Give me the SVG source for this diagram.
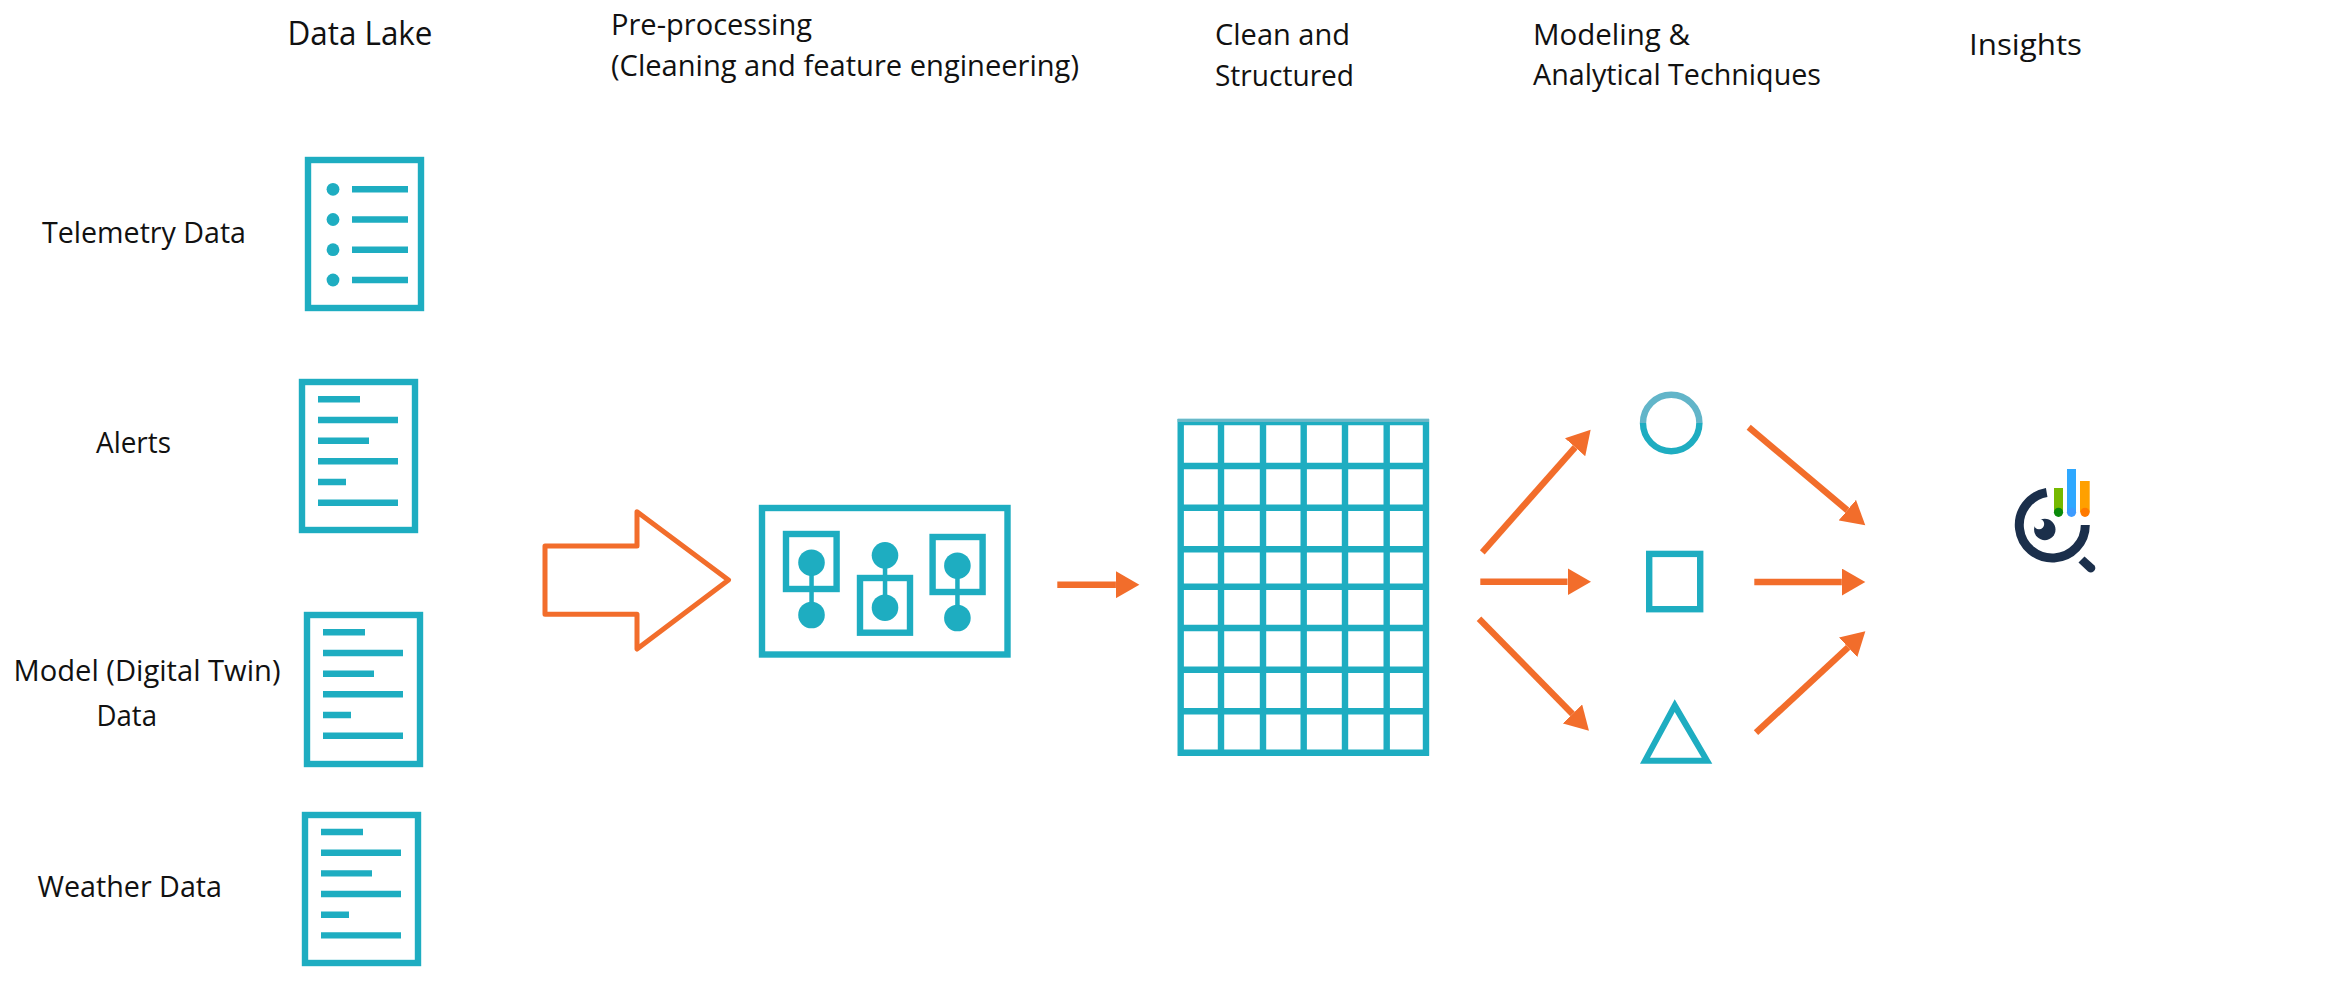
<svg xmlns="http://www.w3.org/2000/svg" width="2338" height="990" viewBox="0 0 2338 990">
<style>
text{font-family:"Open Sans","Noto Sans","Liberation Sans",sans-serif;fill:#111;font-size:30px}
.t{fill:#1eadc1;stroke:none}
.o{fill:none;stroke:#1eadc1;stroke-width:6.4}
.l{stroke:#1eadc1;stroke-width:6.4;fill:none}
.c{fill:none;stroke:#f26d2b;stroke-width:6.4}
</style>
<defs>
<marker id="h" markerUnits="userSpaceOnUse" markerWidth="24" markerHeight="27" refX="0" refY="13.5" orient="auto"><path d="M0,0L23.5,13.5L0,27z" fill="#f26d2b"/></marker>
<g id="lines"><path class="l" d="M0,0h42M0,20.7h80M0,41.4h51M0,62h80M0,82.7h28M0,103.4h80"/></g>
</defs>
<rect width="2338" height="990" fill="#fff"/>
<g id="headers">
<text x="287.5" y="44.5" style="font-size:32px" textLength="145" lengthAdjust="spacingAndGlyphs">Data Lake</text>
<text x="611" y="35" textLength="201" lengthAdjust="spacingAndGlyphs">Pre-processing</text>
<text x="611" y="76" textLength="468" lengthAdjust="spacingAndGlyphs">(Cleaning and feature engineering)</text>
<text x="1215" y="45" textLength="135" lengthAdjust="spacingAndGlyphs">Clean and</text>
<text x="1215" y="85.5" textLength="139" lengthAdjust="spacingAndGlyphs">Structured</text>
<text x="1533" y="44.5" textLength="157" lengthAdjust="spacingAndGlyphs">Modeling &amp;</text>
<text x="1533" y="85" textLength="288" lengthAdjust="spacingAndGlyphs">Analytical Techniques</text>
<text x="1969" y="55" textLength="113" lengthAdjust="spacingAndGlyphs">Insights</text>
</g>
<g id="telemetry">
<text x="42" y="243" textLength="204" lengthAdjust="spacingAndGlyphs">Telemetry Data</text>
<rect class="o" x="308" y="160" width="113" height="148"/>
<circle class="t" cx="333" cy="189.3" r="6.4"/><circle class="t" cx="333" cy="219.5" r="6.4"/><circle class="t" cx="333" cy="249.7" r="6.4"/><circle class="t" cx="333" cy="280" r="6.4"/>
<path class="l" d="M352,189.3H408M352,219.5H408M352,249.7H408M352,280H408"/>
</g>
<g id="alerts">
<text x="96" y="453" textLength="75" lengthAdjust="spacingAndGlyphs">Alerts</text>
<rect class="o" x="302" y="382" width="113" height="148"/>
<use href="#lines" x="318" y="399.3"/>
</g>
<g id="model">
<text x="13.5" y="681" textLength="267" lengthAdjust="spacingAndGlyphs">Model (Digital Twin)</text>
<text x="96.5" y="725.5" textLength="60.5" lengthAdjust="spacingAndGlyphs">Data</text>
<rect class="o" x="307" y="615" width="113" height="149"/>
<use href="#lines" x="323" y="632.3"/>
</g>
<g id="weather">
<text x="37.5" y="897" textLength="184.5" lengthAdjust="spacingAndGlyphs">Weather Data</text>
<rect class="o" x="305" y="815" width="113" height="148"/>
<use href="#lines" x="321" y="832"/>
</g>
<g id="preprocess-box">
<rect class="o" x="762" y="508" width="245.5" height="146.5"/>
<rect class="o" x="786" y="534" width="50.6" height="55"/>
<rect class="o" x="860" y="578" width="50" height="54.7"/>
<rect class="o" x="932.6" y="537" width="50" height="55"/>
<path class="t" d="M809.3,562h4.5v53h-4.5zM882.8,555h4.5v53h-4.5zM955.2,565h4.5v53h-4.5z"/>
<circle class="t" cx="811.5" cy="562.7" r="13.3"/><circle class="t" cx="811.5" cy="615" r="13.3"/>
<circle class="t" cx="885" cy="555.3" r="13.3"/><circle class="t" cx="885" cy="607.7" r="13.3"/>
<circle class="t" cx="957.4" cy="565.7" r="13.3"/><circle class="t" cx="957.4" cy="618" r="13.3"/>
</g>
<g id="grid">
<path class="l" d="M1180.7,419V755.7M1221,419V755.7M1263,419V755.7M1303.7,419V755.7M1345,419V755.7M1386.7,419V755.7M1426,419V755.7M1177.7,422H1429M1177.7,466H1429M1177.7,507.7H1429M1177.7,549.3H1429M1177.7,586.7H1429M1177.7,628H1429M1177.7,669.7H1429M1177.7,711.3H1429M1177.7,752.7H1429"/>
<rect x="1177.7" y="419" width="251.3" height="3" fill="#6ab8c8"/>
</g>
<g id="circle">
<path d="M1643,423A28.2,28.2 0 0 1 1699.4,423" fill="none" stroke="#62b5c9" stroke-width="6.4"/>
<path d="M1643,423A28.2,28.2 0 0 0 1699.4,423" fill="none" stroke="#1eadc1" stroke-width="6.4"/>
</g>
<g id="square"><rect class="o" x="1649.2" y="553.9" width="51" height="55.3"/></g>
<g id="triangle"><path class="t" fill-rule="evenodd" d="M1674.7,699.3L1712.3,763.7H1640zM1674.7,712L1650,757.7H1701.7z"/></g>
<g id="insights-icon">
<rect x="2054" y="488" width="9" height="24" fill="#76b900"/>
<rect x="2067" y="469" width="9" height="43" fill="#2ea8ff"/>
<rect x="2080" y="481" width="9.7" height="31" fill="#ffa000"/>
<circle cx="2058.5" cy="512.3" r="4.6" fill="#0a8a0a"/>
<circle cx="2071.5" cy="512.3" r="4.6" fill="#3d9bff"/>
<circle cx="2085" cy="512.3" r="4.6" fill="#ff7a00"/>
<path d="M2046.7,492.5A33,33 0 1 0 2085.3,525" fill="none" stroke="#1b2f4b" stroke-width="9"/>
<path d="M2078.5,562.5L2084.5,556.5L2094.5,565.5A4.5,4.5 0 0 1 2088,571.5z" fill="#1b2f4b"/>
<circle cx="2044.8" cy="529.5" r="10.7" fill="#1b2f4b"/>
<circle cx="2039" cy="524" r="5.2" fill="#fff"/>
</g>
<g id="connectors">
<path d="M545,546H637V511.7L728.5,580L637,649V614.3H545z" fill="none" stroke="#f26d2b" stroke-width="5" stroke-linejoin="round"/>
<path class="c" d="M1057.3,584.7H1115.9" marker-end="url(#h)"/>
<path class="c" d="M1482.3,552.3L1575.1,447.3" marker-end="url(#h)"/>
<path class="c" d="M1480.3,581.7H1567.5" marker-end="url(#h)"/>
<path class="c" d="M1479,618.7L1572.5,713.9" marker-end="url(#h)"/>
<path class="c" d="M1748.7,427.3L1847.3,510.2" marker-end="url(#h)"/>
<path class="c" d="M1754.3,582H1841.8" marker-end="url(#h)"/>
<path class="c" d="M1756,732.7L1848.1,647.3" marker-end="url(#h)"/>
</g>
</svg>
